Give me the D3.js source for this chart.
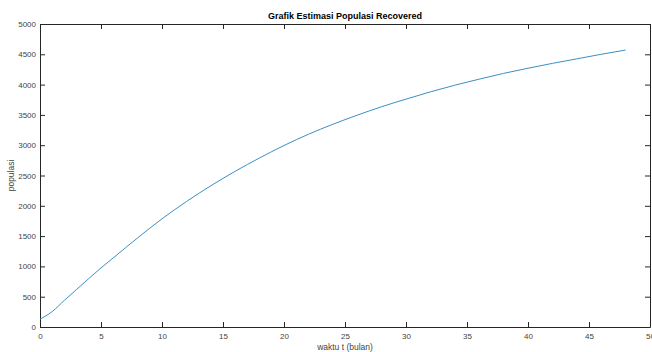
<!DOCTYPE html>
<html>
<head>
    <title>Grafik Estimasi Populasi Recovered</title>
    <style>
        body { margin: 0; background: #fff; }
        text { font-family: "Liberation Sans", Arial, sans-serif; }
    </style>
</head>
<body>
    <script src="https://d3js.org/d3.v7.min.js"></script>
    <script>
        // months and estimated recovered population
        var bulan = [0, 1, 2, 3, 4, 5, 6, 8, 10, 12, 14, 16, 18, 20, 22, 24,
                     26, 28, 30, 32, 34, 36, 38, 40, 42, 44, 46, 48];
        var recovered = [130, 255, 440, 620, 800, 975, 1140, 1470, 1785, 2070, 2330, 2570, 2790, 2995, 3180, 3345,
                         3495, 3635, 3760, 3880, 3990, 4090, 4185, 4270, 4350, 4425, 4500, 4570];
        var xTicks = [0, 5, 10, 15, 20, 25, 30, 35, 40, 45, 50];
        var yTicks = [0, 500, 1000, 1500, 2000, 2500, 3000, 3500, 4000, 4500, 5000];

        var width = 652,
            height = 352,
            padL = 40, padR = 650, padT = 24, padB = 327,
            axisColor = "#262626",
            lineColor = "#3d8fc0";

        var svg = d3.select("body").append("svg")
            .attr("width", width)
            .attr("height", height);

        svg.append("rect").attr("width", width).attr("height", height).attr("fill", "#fff");

        var x = d3.scaleLinear().domain([0, 50]).range([padL, padR]);
        var y = d3.scaleLinear().domain([0, 5000]).range([padB, padT]);

        // box with inward ticks like matlab
        var tick = 5;
        var g = svg.append("g");

        g.append("g").attr("transform", "translate(0," + padB + ")")
            .call(d3.axisBottom(x).tickValues(xTicks).tickSizeInner(-tick).tickSizeOuter(0).tickPadding(6).tickFormat(d3.format("d")));
        g.append("g").attr("transform", "translate(0," + padT + ")")
            .call(d3.axisTop(x).tickValues(xTicks).tickSizeInner(-tick).tickSizeOuter(0).tickFormat(""));
        g.append("g").attr("transform", "translate(" + padL + ",0)")
            .call(d3.axisLeft(y).tickValues(yTicks).tickSizeInner(-tick).tickSizeOuter(0).tickPadding(4).tickFormat(d3.format("d")));
        g.append("g").attr("transform", "translate(" + padR + ",0)")
            .call(d3.axisRight(y).tickValues(yTicks).tickSizeInner(-tick).tickSizeOuter(0).tickFormat(""));

        g.selectAll(".domain").attr("stroke", axisColor).attr("stroke-width", 1);
        g.selectAll(".tick line").attr("stroke", axisColor);
        g.selectAll(".tick text").attr("fill", "#444").style("font-size", "8px")
            .style("font-family", "'Liberation Sans', Arial, sans-serif");

        // curve
        var line = d3.line()
            .x(function(d, i) { return x(bulan[i]); })
            .y(function(d) { return y(d); })
            .curve(d3.curveMonotoneX);

        svg.append("path")
            .datum(recovered)
            .attr("fill", "none")
            .attr("stroke", lineColor)
            .attr("stroke-width", 1)
            .attr("d", line);

        // labels
        svg.append("text")
            .attr("x", (padL + padR) / 2).attr("y", 19)
            .attr("text-anchor", "middle")
            .style("font-size", "9px").style("font-weight", "bold")
            .attr("fill", "#000")
            .text("Grafik Estimasi Populasi Recovered");

        svg.append("text")
            .attr("x", (padL + padR) / 2).attr("y", 350)
            .attr("text-anchor", "middle")
            .style("font-size", "8.5px")
            .attr("fill", "#444")
            .text("waktu t (bulan)");

        svg.append("text")
            .attr("transform", "translate(14," + (padT + padB) / 2 + ") rotate(-90)")
            .attr("text-anchor", "middle")
            .style("font-size", "8.5px")
            .attr("fill", "#444")
            .text("populasi");
    </script>
</body>
</html>
